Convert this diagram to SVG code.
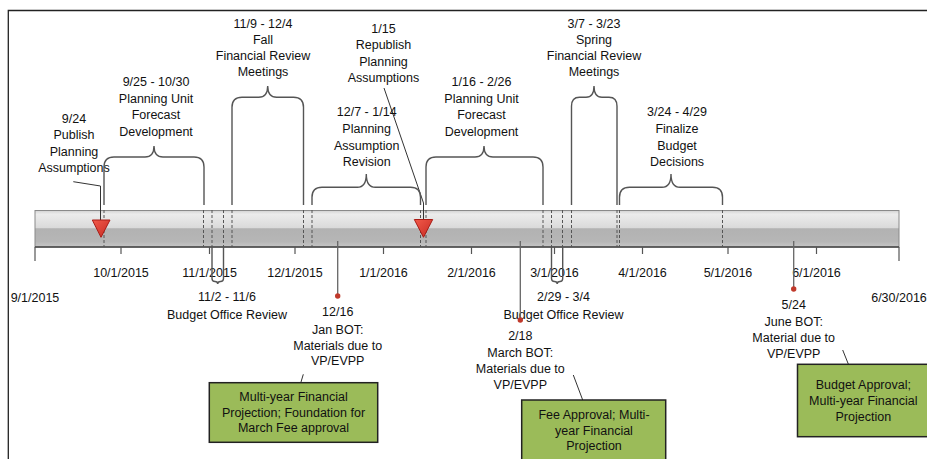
<svg xmlns="http://www.w3.org/2000/svg" width="927" height="459" viewBox="0 0 927 459">
<defs>
<linearGradient id="barg" x1="0" y1="0" x2="0" y2="1">
<stop offset="0" stop-color="#d2d2d2"/>
<stop offset="0.1" stop-color="#ececec"/>
<stop offset="0.47" stop-color="#dadada"/>
<stop offset="0.5" stop-color="#b2b2b2"/>
<stop offset="0.85" stop-color="#b6b6b6"/>
<stop offset="1" stop-color="#c6c6c6"/>
</linearGradient>
<linearGradient id="trig" x1="0" y1="0" x2="1" y2="1">
<stop offset="0" stop-color="#f25a4a"/>
<stop offset="1" stop-color="#c62a22"/>
</linearGradient>
<style>
text{font-family:"Liberation Sans",Arial,sans-serif;font-size:12.5px;fill:#111;text-anchor:middle}
.frame{fill:none;stroke:#222;stroke-width:1.3}
.dash{stroke:#555;stroke-width:1;stroke-dasharray:3,2;fill:none}
.brace{fill:none;stroke:#555;stroke-width:1.4}
.tick{stroke:#555;stroke-width:1.2}
.lead{stroke:#333;stroke-width:1;fill:none}
.vl{stroke:#666;stroke-width:1.3}
.dot{fill:#c0392b}
.tri{fill:url(#trig);stroke:#a81c16;stroke-width:1}
.box{fill:#9bbb59;stroke:#222;stroke-width:1.5}
</style>
</defs>

<path class="frame" d="M8.3,459 V10.5 H927"/>

<g id="timeline">
<rect x="35" y="210.5" width="864" height="36.5" fill="url(#barg)" stroke="#8a8a8a" stroke-width="1"/>
<line x1="35" y1="247" x2="899" y2="247" stroke="#444" stroke-width="1.3"/>
<g class="tick">
<line x1="35" y1="247" x2="35" y2="261"/>
<line x1="121" y1="247" x2="121" y2="254"/>
<line x1="209.5" y1="247" x2="209.5" y2="254"/>
<line x1="295" y1="247" x2="295" y2="254"/>
<line x1="383.5" y1="247" x2="383.5" y2="254"/>
<line x1="471.5" y1="247" x2="471.5" y2="254"/>
<line x1="554.5" y1="247" x2="554.5" y2="254"/>
<line x1="642.5" y1="247" x2="642.5" y2="254"/>
<line x1="728" y1="247" x2="728" y2="254"/>
<line x1="816.5" y1="247" x2="816.5" y2="254"/>
<line x1="899" y1="247" x2="899" y2="261"/>
</g>
<text x="35" y="301.5">9/1/2015</text>
<text x="121" y="276.5">10/1/2015</text>
<text x="209.5" y="276.5">11/1/2015</text>
<text x="295" y="276.5">12/1/2015</text>
<text x="383.5" y="276.5">1/1/2016</text>
<text x="471.5" y="276.5">2/1/2016</text>
<text x="554.5" y="276.5">3/1/2016</text>
<text x="642.5" y="276.5">4/1/2016</text>
<text x="728" y="276.5">5/1/2016</text>
<text x="816.5" y="276.5">6/1/2016</text>
<text x="899" y="301.5">6/30/2016</text>
<g class="dash">
<line x1="104" y1="210" x2="104" y2="247"/>
<line x1="203.5" y1="210" x2="203.5" y2="247"/>
<line x1="212" y1="210" x2="212" y2="247"/>
<line x1="223.5" y1="210" x2="223.5" y2="247"/>
<line x1="232" y1="210" x2="232" y2="247"/>
<line x1="303.5" y1="210" x2="303.5" y2="247"/>
<line x1="312" y1="210" x2="312" y2="247"/>
<line x1="420.5" y1="210" x2="420.5" y2="247"/>
<line x1="426" y1="210" x2="426" y2="247"/>
<line x1="543" y1="210" x2="543" y2="247"/>
<line x1="551.5" y1="210" x2="551.5" y2="247"/>
<line x1="562.5" y1="210" x2="562.5" y2="247"/>
<line x1="571.5" y1="210" x2="571.5" y2="247"/>
<line x1="617" y1="210" x2="617" y2="247"/>
<line x1="619.5" y1="210" x2="619.5" y2="247"/>
<line x1="722.5" y1="210" x2="722.5" y2="247"/>
</g>
</g>

<g id="connectors">
<path class="lead" d="M73.3,181.7 L100.5,186 V222"/>
<path class="lead" d="M384,88 L423.5,203 V222"/>
<line class="lead" x1="301" y1="382" x2="303.3" y2="374.3"/>
<line class="lead" x1="573.3" y1="375" x2="582.7" y2="400"/>
<line class="lead" x1="842.7" y1="350" x2="848.3" y2="364"/>
</g>

<g id="publish-assumptions">
<path class="tri" d="M92.3,220 H110 L101,237.3 Z"/>
<text x="74" y="122.5">9/24</text>
<text x="74" y="139">Publish</text>
<text x="74" y="155.5">Planning</text>
<text x="74" y="172">Assumptions</text>
</g>

<g id="forecast-fall">
<path class="brace" d="M104,205 V167 Q104,157 114,157 H145 C151,157 154,153 154,146 C154,153 157,157 163,157 H194 Q204,157 204,167 V205"/>
<text x="156" y="86">9/25 - 10/30</text>
<text x="156" y="102.5">Planning Unit</text>
<text x="156" y="119">Forecast</text>
<text x="156" y="135.5">Development</text>
</g>

<g id="fall-review">
<path class="brace" d="M232,205 V107.3 Q232,97.3 242,97.3 H258.7 C264.7,97.3 267.7,93.3 267.7,86 C267.7,93.3 270.7,97.3 276.7,97.3 H293.5 Q303.5,97.3 303.5,107.3 V205"/>
<text x="263" y="28">11/9 - 12/4</text>
<text x="263" y="44">Fall</text>
<text x="263" y="60">Financial Review</text>
<text x="263" y="76">Meetings</text>
</g>

<g id="budget-office-fall">
<path class="brace" d="M212,247 V278.5 Q212,281.5 215,281.5 Q217.7,281.5 217.7,284 Q217.7,281.5 220.5,281.5 Q223.5,281.5 223.5,278.5 V247"/>
<text x="227" y="301">11/2 - 11/6</text>
<text x="227" y="318.5">Budget Office Review</text>
</g>

<g id="assumption-revision">
<path class="brace" d="M312,205 V197.3 Q312,187.3 322,187.3 H357.3 C363.3,187.3 366.3,182 366.3,174 C366.3,182 369.3,187.3 375.3,187.3 H410.5 Q420.5,187.3 420.5,197.3 V205"/>
<text x="366.7" y="116">12/7 - 1/14</text>
<text x="366.7" y="133">Planning</text>
<text x="366.7" y="149.5">Assumption</text>
<text x="366.7" y="165.5">Revision</text>
</g>

<g id="republish-assumptions">
<path class="tri" d="M414.3,219.5 H432.7 L423.5,237.3 Z"/>
<text x="383.5" y="33">1/15</text>
<text x="383.5" y="49">Republish</text>
<text x="383.5" y="65.5">Planning</text>
<text x="383.5" y="82">Assumptions</text>
</g>

<g id="forecast-spring">
<path class="brace" d="M426,205 V167 Q426,157 436,157 H475 C481,157 484,153 484,146 C484,153 487,157 493,157 H533 Q543,157 543,167 V205"/>
<text x="481.5" y="86">1/16 - 2/26</text>
<text x="481.5" y="102.5">Planning Unit</text>
<text x="481.5" y="119">Forecast</text>
<text x="481.5" y="135.5">Development</text>
</g>

<g id="budget-office-spring">
<path class="brace" d="M551.5,247 V278.5 Q551.5,281.5 554.5,281.5 Q557.2,281.5 557.2,284 Q557.2,281.5 560,281.5 Q562.7,281.5 562.7,278.5 V247"/>
<text x="563.5" y="301">2/29 - 3/4</text>
<text x="563.5" y="318.5">Budget Office Review</text>
</g>

<g id="spring-review">
<path class="brace" d="M571.5,205 V106.3 Q571.5,97.3 579.5,97.3 H586 C591,97.3 594,93.3 594,86 C594,93.3 597,97.3 602,97.3 H609 Q617,97.3 617,106.3 V205"/>
<text x="594" y="28">3/7 - 3/23</text>
<text x="594" y="44">Spring</text>
<text x="594" y="60">Financial Review</text>
<text x="594" y="76">Meetings</text>
</g>

<g id="finalize-budget">
<path class="brace" d="M619.5,205 V197.3 Q619.5,187.3 629.5,187.3 H662 C668,187.3 671,182 671,174 C671,182 674,187.3 680,187.3 H712.5 Q722.5,187.3 722.5,197.3 V205"/>
<text x="677" y="116">3/24 - 4/29</text>
<text x="677" y="133">Finalize</text>
<text x="677" y="149.5">Budget</text>
<text x="677" y="165.5">Decisions</text>
</g>

<g id="jan-bot">
<line class="vl" x1="337.7" y1="241" x2="337.7" y2="296"/>
<circle class="dot" cx="337.7" cy="296" r="2.7"/>
<text x="337.7" y="316">12/16</text>
<text x="337.7" y="333.5">Jan BOT:</text>
<text x="337.7" y="349.5">Materials due to</text>
<text x="337.7" y="364.5">VP/EVPP</text>
</g>

<g id="march-bot">
<line class="vl" x1="520.3" y1="241" x2="520.3" y2="320"/>
<circle class="dot" cx="520.3" cy="320" r="2.7"/>
<text x="520.3" y="340">2/18</text>
<text x="520.3" y="357">March BOT:</text>
<text x="520.3" y="373">Materials due to</text>
<text x="520.3" y="388.5">VP/EVPP</text>
</g>

<g id="june-bot">
<line class="vl" x1="793.7" y1="241" x2="793.7" y2="289"/>
<circle class="dot" cx="793.7" cy="289" r="2.7"/>
<text x="793.7" y="309">5/24</text>
<text x="793.7" y="326">June BOT:</text>
<text x="793.7" y="342">Material due to</text>
<text x="793.7" y="358">VP/EVPP</text>
</g>

<g id="box-projection">
<rect class="box" x="209.3" y="382.7" width="168.4" height="59.6"/>
<text x="293.5" y="400.5">Multi-year Financial</text>
<text x="293.5" y="416.8">Projection; Foundation for</text>
<text x="293.5" y="432.2">March Fee approval</text>
</g>

<g id="box-fee">
<rect class="box" x="521.7" y="400" width="144" height="70"/>
<text x="594" y="418.5">Fee Approval; Multi-</text>
<text x="594" y="434.5">year Financial</text>
<text x="594" y="450">Projection</text>
</g>

<g id="box-budget">
<rect class="box" x="797.5" y="364.3" width="135" height="72.4"/>
<text x="863.3" y="389">Budget Approval;</text>
<text x="863.3" y="404.5">Multi-year Financial</text>
<text x="863.3" y="420.5">Projection</text>
</g>
</svg>
